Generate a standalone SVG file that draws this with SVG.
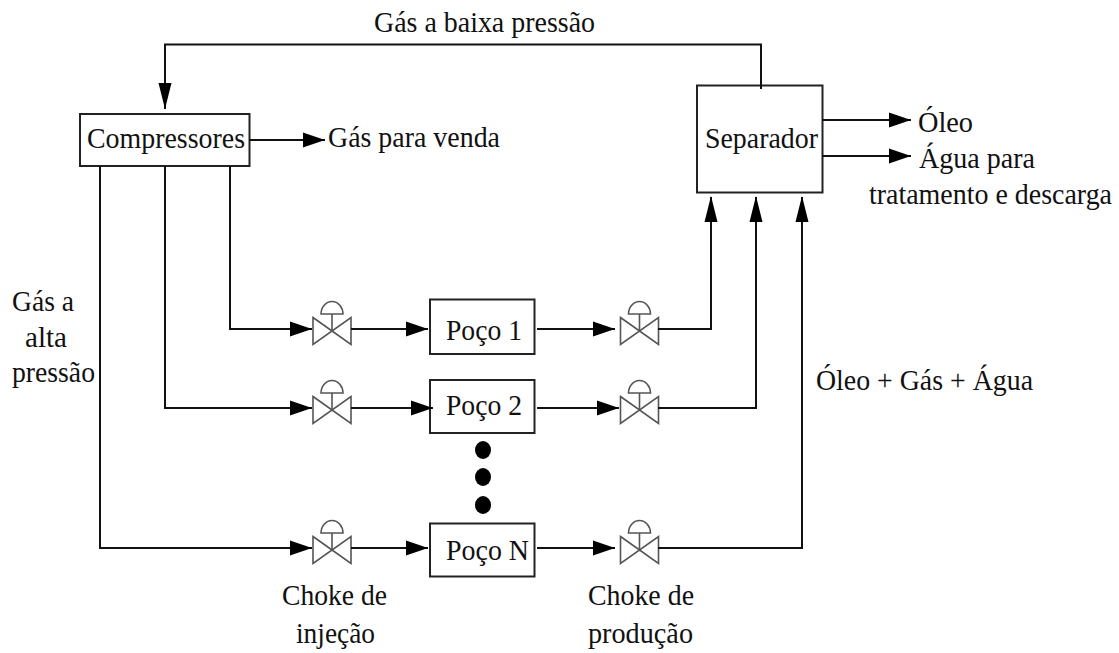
<svg xmlns="http://www.w3.org/2000/svg" width="1119" height="653" viewBox="0 0 1119 653">
<style>
text{font-family:"Liberation Serif","Times New Roman",serif;font-size:30px;fill:#111}
.box{fill:#fff;stroke:#222;stroke-width:2}
.ln{fill:none;stroke:#111;stroke-width:2}
.h{marker-end:url(#ah)}
.u{marker-end:url(#au)}
.v{fill:#fff;stroke:#555;stroke-width:1.600}
</style>
<defs>
<marker id="ah" markerUnits="userSpaceOnUse" markerWidth="23" markerHeight="16" refX="22" refY="8" orient="0"><path d="M0 0.500L22 8L0 15.500Z" fill="#000"/></marker>
<marker id="au" markerUnits="userSpaceOnUse" markerWidth="16" markerHeight="27" refX="8" refY="1" orient="0"><path d="M8 0L14.500 26H1.500Z" fill="#000"/></marker>
<marker id="ad" markerUnits="userSpaceOnUse" markerWidth="16" markerHeight="27" refX="8" refY="26" orient="0"><path d="M8 26L14.500 0H1.500Z" fill="#000"/></marker>
<g id="valve"><path class="v" d="M-19 -13.500L19 13.500V-13.500L-19 13.500Z"/><path class="v" d="M0 0V-17M-11 -17A11 12.500 0 0 1 11 -17Z"/></g>
</defs>
<rect width="1119" height="653" fill="#fff"/>
<g id="compressores"><rect class="box" x="80" y="114" width="169.500" height="52"/><text x="87" y="148" textLength="158" lengthAdjust="spacingAndGlyphs">Compressores</text></g>
<g id="separador"><rect class="box" x="697" y="85.500" width="125.500" height="107"/><text x="705" y="148" textLength="113" lengthAdjust="spacingAndGlyphs">Separador</text></g>
<g id="poco1"><rect class="box" x="430" y="299.500" width="104.500" height="54.500"/><text x="446" y="340" textLength="76" lengthAdjust="spacingAndGlyphs">Poço 1</text></g>
<g id="poco2"><rect class="box" x="430" y="380" width="104.500" height="53"/><text x="446" y="415" textLength="76" lengthAdjust="spacingAndGlyphs">Poço 2</text></g>
<g id="pocoN"><rect class="box" x="430" y="523.500" width="104.500" height="53"/><text x="446" y="560" textLength="83" lengthAdjust="spacingAndGlyphs">Poço N</text></g>
<g id="valves">
<use href="#valve" x="332" y="331"/><use href="#valve" x="332" y="410"/><use href="#valve" x="332" y="550"/>
<use href="#valve" x="639.500" y="331"/><use href="#valve" x="639.500" y="410"/><use href="#valve" x="639.500" y="550"/>
</g>
<g id="connectors">
<path class="ln" d="M761 89V44.500H165V109" marker-end="url(#ad)"/>
<path class="ln h" d="M249 140H325"/>
<path class="ln h" d="M822 120H911"/>
<path class="ln h" d="M822 156H911"/>
<path class="ln h" d="M230 166V329H312"/>
<path class="ln h" d="M165 166V408H312"/>
<path class="ln h" d="M100 166V548H312"/>
<path class="ln h" d="M351 329H428"/>
<path class="ln h" d="M351 408H433"/>
<path class="ln h" d="M351 548H428"/>
<path class="ln h" d="M537 329H615"/>
<path class="ln h" d="M537 408H619"/>
<path class="ln h" d="M537 548H615"/>
<path class="ln u" d="M658 329H711V197"/>
<path class="ln u" d="M658 408H756V197"/>
<path class="ln u" d="M658 548H802V197"/>
</g>
<g id="dots"><ellipse cx="483" cy="450" rx="8" ry="9"/><ellipse cx="483" cy="477" rx="8" ry="9"/><ellipse cx="483" cy="505" rx="8" ry="9"/></g>
<g id="labels">
<text x="374" y="32" textLength="221" lengthAdjust="spacingAndGlyphs">Gás a baixa pressão</text>
<text x="328" y="147" textLength="172" lengthAdjust="spacingAndGlyphs">Gás para venda</text>
<text x="918" y="132" textLength="55" lengthAdjust="spacingAndGlyphs">Óleo</text>
<text x="919" y="168" textLength="116" lengthAdjust="spacingAndGlyphs">Água para</text>
<text x="869" y="204" style="font-size:28.500px" textLength="243" lengthAdjust="spacingAndGlyphs">tratamento e descarga</text>
<text x="12" y="311" textLength="62" lengthAdjust="spacingAndGlyphs">Gás a</text>
<text x="25" y="347" textLength="42" lengthAdjust="spacingAndGlyphs">alta</text>
<text x="12" y="382" textLength="83" lengthAdjust="spacingAndGlyphs">pressão</text>
<text x="816" y="390" textLength="217" lengthAdjust="spacingAndGlyphs">Óleo + Gás + Água</text>
<text x="282" y="605" textLength="105" lengthAdjust="spacingAndGlyphs">Choke de</text>
<text x="296" y="643" textLength="79" lengthAdjust="spacingAndGlyphs">injeção</text>
<text x="588" y="605" textLength="106" lengthAdjust="spacingAndGlyphs">Choke de</text>
<text x="588" y="643" textLength="105" lengthAdjust="spacingAndGlyphs">produção</text>
</g>
</svg>
